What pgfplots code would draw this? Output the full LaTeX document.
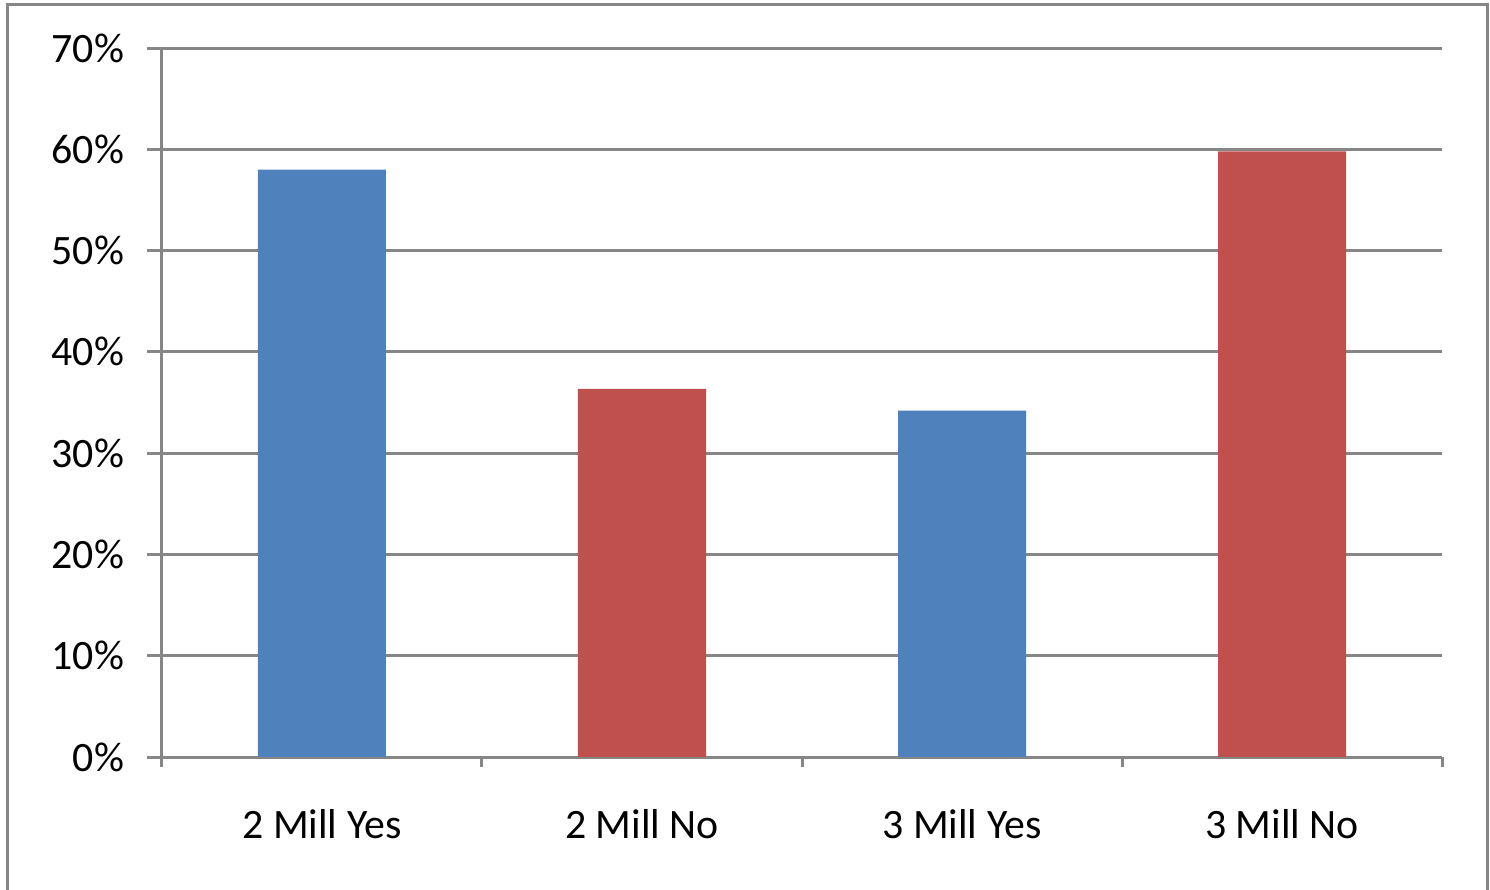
\documentclass[border=0pt]{standalone}
\usepackage{pgfplots}
\pgfplotsset{compat=1.18}
\usepackage{fontspec}
\setmainfont{Carlito}
\definecolor{barblue}{RGB}{79,129,189}
\definecolor{barred}{RGB}{192,80,77}
\definecolor{linegray}{RGB}{134,134,134}
\begin{document}
\begin{tikzpicture}
\useasboundingbox (-81bp,-66.5bp) rectangle (664bp,378.5bp);
\draw[linegray, line width=1.5bp] (-77bp,-80bp) rectangle (662.5bp,376bp);
\begin{axis}[
  at={(0,0)}, anchor=south west,
  scale only axis,
  width=640bp, height=354.5bp,
  xmin=-0.5, xmax=3.5,
  ymin=0, ymax=0.7,
  ytick={0,0.1,0.2,0.3,0.4,0.5,0.6,0.7},
  yticklabels={0\%,10\%,20\%,30\%,40\%,50\%,60\%,70\%},
  xtick={0,1,2,3},
  xticklabels={2 Mill Yes,2 Mill No,3 Mill Yes,3 Mill No},
  minor xtick={-0.5,0.5,1.5,2.5,3.5},
  axis x line*=bottom,
  axis y line*=left,
  axis line style={linegray, line width=1.5bp, -},
  ymajorgrids,
  major grid style={linegray, line width=1.5bp},
  tick align=outside,
  major tick length=7.5bp,
  minor tick length=5bp,
  tick style={linegray, line width=1.5bp},
  major x tick style={draw=none},
  every tick label/.append style={font=\fontsize{21}{25}\selectfont, text=black},
  yticklabel style={xshift=-8bp},
  xticklabel style={yshift=-15bp},
  ybar, bar width=64bp, bar shift=0pt,
]
\addplot[fill=barblue, draw=none] coordinates {(0,0.580) (2,0.342)};
\addplot[fill=barred, draw=none] coordinates {(1,0.3635) (3,0.598)};
\end{axis}
\end{tikzpicture}
\end{document}
